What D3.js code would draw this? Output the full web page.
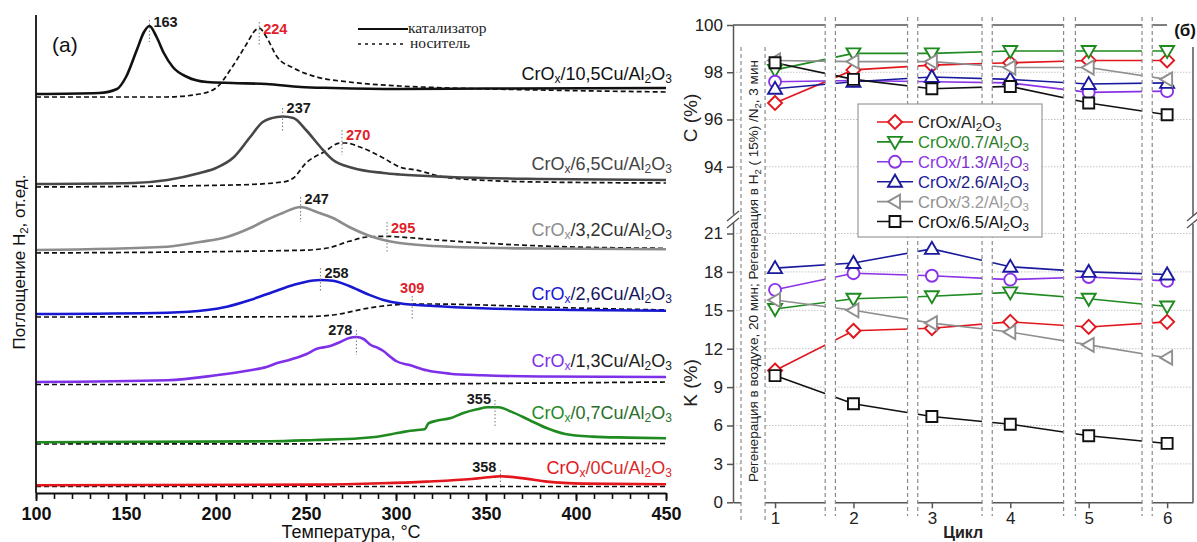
<!DOCTYPE html>
<html>
<head>
<meta charset="utf-8">
<script src="https://cdn.jsdelivr.net/npm/d3@7"></script>
<style>
  body { margin: 0; background: #fff; }
  svg { display: block; }
</style>
</head>
<body>
<svg id="chart" width="1197" height="542"></svg>
<script>
// ===================== Panel (a): H2-TPR profiles =====================
const tempMajorTicks = [100, 150, 200, 250, 300, 350, 400, 450];

// Each profile: [temperature °C, H2 uptake above its own baseline, arb. units]
const tpr105Cat = [[100,0],[135,0.1],[145,0.5],[150,1.7],[156,4.4],[160,6.2],[163,6.8],[167,5.7],[171,4.1],[176,2.7],[184,1.7],[195,1.2],[209,1.1],[228,1.0],[247,0.7],[265,0.6],[302,0.5],[350,0.55],[450,0.6]];
const tpr105Sup = [[100,0],[172,0],[191,0.3],[200,0.9],[209,3.0],[217,5.3],[222,6.7],[224,6.9],[228,6.0],[234,4.0],[243,2.9],[256,2.0],[274,1.5],[302,1.1],[330,0.9],[380,0.7],[450,0.5]];
const tpr65Cat  = [[100,0],[154,0.1],[173,0.4],[191,1.1],[200,1.6],[210,2.7],[219,4.7],[226,6.2],[234,6.7],[237,6.75],[243,6.6],[250,5.4],[258,3.7],[265,2.4],[276,1.6],[293,1.1],[302,0.95],[330,0.7],[380,0.5],[450,0.4]];
const tpr65Sup  = [[100,0],[210,0.2],[237,0.5],[243,0.9],[250,2.4],[260,3.5],[269,4.4],[272,4.4],[280,4.0],[293,2.9],[302,2.0],[311,1.7],[330,0.9],[380,0.5],[450,0.4]];
const tpr32Cat  = [[100,0],[173,0.33],[191,0.8],[206,1.3],[219,2.2],[228,3.0],[237,3.7],[247,4.3],[256,3.8],[265,3.2],[274,2.3],[284,1.5],[293,1.0],[302,0.7],[330,0.33],[380,0.15],[450,0.07]];
const tpr32Sup  = [[100,0],[247,0.27],[262,0.5],[274,1.17],[284,1.6],[295,1.67],[302,1.6],[321,1.33],[348,1.0],[386,0.67],[450,0.47]];
const tpr26Cat  = [[100,0],[173,0.13],[195,0.4],[206,0.73],[219,1.4],[232,2.23],[243,2.9],[254,3.35],[258,3.4],[265,3.33],[274,2.8],[284,2.0],[293,1.4],[302,1.07],[321,0.8],[348,0.57],[400,0.4],[450,0.33]];
const tpr26Sup  = [[100,0],[247,0.03],[265,0.2],[284,0.87],[298,1.2],[309,1.3],[321,1.3],[348,1.2],[386,0.97],[450,0.7]];
const tpr13Cat  = [[100,0],[173,0.17],[200,0.67],[219,1.17],[228,1.5],[234,1.9],[241,2.23],[250,2.77],[256,3.33],[263,3.57],[269,4.0],[274,4.4],[278,4.5],[282,4.3],[286,3.7],[290,3.4],[293,3.1],[297,2.5],[300,2.1],[308,1.67],[317,1.17],[330,0.83],[348,0.67],[380,0.55],[450,0.5]];
const tpr13Sup  = [[100,0],[200,0],[300,0.05],[450,0.25]];
const tpr07Cat  = [[100,0],[230,0.1],[255,0.23],[280,0.4],[292,0.63],[300,0.9],[305,1.07],[312,1.23],[316,1.3],[318,1.9],[323,2.17],[330,2.4],[337,2.9],[345,3.3],[351,3.5],[357,3.5],[364,3.07],[374,2.23],[384,1.4],[394,0.83],[409,0.57],[429,0.47],[450,0.4]];
const tpr07Sup  = [[100,0],[450,0.05]];
const tpr0Cat   = [[100,0],[255,0.07],[292,0.2],[317,0.37],[342,0.63],[354,0.85],[358,0.9],[362,0.87],[372,0.67],[384,0.37],[404,0.17],[450,0.1]];
const tpr0Sup   = [[100,0],[450,0]];

const sampleNames = ['CrOx/10,5Cu/Al2O3','CrOx/6,5Cu/Al2O3','CrOx/3,2Cu/Al2O3','CrOx/2,6Cu/Al2O3','CrOx/1,3Cu/Al2O3','CrOx/0,7Cu/Al2O3','CrOx/0Cu/Al2O3'];

// Peak maxima (°C): catalyst and support
const peakTemps   = [163, 224, 237, 270, 247, 295, 258, 309, 278, 355, 358];
const peakIsSupport = [false, true, false, true, false, true, false, true, false, false, false];

// ---- layout / style for panel (a) ----
const catalystCurves = [tpr105Cat, tpr65Cat, tpr32Cat, tpr26Cat, tpr13Cat, tpr07Cat, tpr0Cat];
const supportCurves  = [tpr105Sup, tpr65Sup, tpr32Sup, tpr26Sup, tpr13Sup, tpr07Sup, tpr0Sup];
const catOffset = [39.9, 30.9, 24.3, 17.9, 11.1, 5.07, 0.77];
const supOffset = [39.6, 30.6, 24.0, 17.6, 10.85, 4.9, 0.65];
const curveColor = ['#111111', '#474747', '#8c8c8c', '#1818d2', '#7e2fe8', '#1f8a1f', '#e3161e'];
const nameHeadColor = ['#111111', '#444444', '#8c8c8c', '#1818d2', '#7e2fe8', '#1f8a1f', '#e3161e'];
const nameTailColor = ['#111111', '#444444', '#333333', '#16165e', '#222222', '#2b6e2b', '#d92a2a'];
const nameLevel = [41.3, 32.3, 25.7, 19.3, 12.6, 7.4, 1.9];
// peak annotations: text baseline level, marker top/bottom levels, anchor
const peakLabelLevel = [46.6, 45.9, 38.0, 35.3, 28.9, 26.0, 21.5, 20.0, 15.8, 8.9, 2.1];
const peakMarkTop    = [47.3, 47.1, 38.5, 36.3, 29.6, 27.1, 22.5, 19.7, 16.3, 9.3, 2.3];
const peakMarkBot    = [45.1, 44.8, 36.1, 33.8, 27.1, 24.1, 20.1, 17.3, 13.8, 6.5, 0.5];
const peakAnchor     = ['start','start','start','start','start','start','start','middle','end','end','end'];

const svg = d3.select('#chart');

const xT = d3.scaleLinear().domain([100, 450]).range([36, 666]);
const yA = d3.scaleLinear().domain([0, 47.8]).range([493, 15]);

// chemical-formula text with subscripts (digits after letters, optional x in CrOx)
function drawChem(textSel, segments, subX, subSize, subDy) {
  let shifted = false;
  let prevCh = '';
  segments.forEach(seg => {
    const runs = [];
    for (const ch of seg.str) {
      const sub = (/[0-9]/.test(ch) && /[A-Za-zА-я]/.test(prevCh)) || (subX && ch === 'x' && prevCh === 'O');
      const last = runs[runs.length - 1];
      if (last && last.sub === sub) last.t += ch; else runs.push({ t: ch, sub });
      prevCh = ch;
    }
    runs.forEach(r => {
      const ts = textSel.append('tspan').text(r.t).attr('fill', seg.color);
      if (r.sub) {
        ts.attr('font-size', subSize);
        if (!shifted) { ts.attr('dy', subDy); shifted = true; }
      } else if (shifted) {
        ts.attr('dy', -subDy); shifted = false;
      }
    });
  });
}

const gA = svg.append('g').attr('class', 'panel-a');

const lineA = (offset) => d3.line()
  .x(d => xT(d[0]))
  .y(d => yA(offset + d[1]))
  .curve(d3.curveMonotoneX);

// support (dashed) profiles
supportCurves.forEach((pts, i) => {
  gA.append('path').datum(pts)
    .attr('d', lineA(supOffset[i]))
    .attr('fill', 'none').attr('stroke', '#111').attr('stroke-width', 1.7)
    .attr('stroke-dasharray', '5,3');
});
// catalyst (solid) profiles
catalystCurves.forEach((pts, i) => {
  gA.append('path').datum(pts)
    .attr('d', lineA(catOffset[i]))
    .attr('fill', 'none').attr('stroke', curveColor[i]).attr('stroke-width', 2.6)
    .attr('stroke-linejoin', 'round');
});

// peak markers and labels
peakTemps.forEach((t, i) => {
  gA.append('line')
    .attr('x1', xT(t)).attr('x2', xT(t))
    .attr('y1', yA(peakMarkTop[i])).attr('y2', yA(peakMarkBot[i]))
    .attr('stroke', '#777').attr('stroke-width', 1).attr('stroke-dasharray', '1.5,2');
  const dx = peakAnchor[i] === 'start' ? 4 : (peakAnchor[i] === 'end' ? -4 : 0);
  gA.append('text')
    .attr('x', xT(t) + dx).attr('y', yA(peakLabelLevel[i]))
    .attr('text-anchor', peakAnchor[i])
    .attr('font-family', 'Liberation Sans, Arial, sans-serif')
    .attr('font-size', 14.5).attr('font-weight', 'bold')
    .attr('fill', peakIsSupport[i] ? '#e0202a' : '#1a1a1a')
    .text(t);
});

// sample names
sampleNames.forEach((name, i) => {
  const cut = name.indexOf('/');
  const t = gA.append('text')
    .attr('x', xT(450) + 6).attr('y', yA(nameLevel[i]))
    .attr('text-anchor', 'end')
    .attr('font-family', 'Liberation Sans, Arial, sans-serif')
    .attr('font-size', 18);
  drawChem(t, [{ str: name.slice(0, cut), color: nameHeadColor[i] }, { str: name.slice(cut), color: nameTailColor[i] }], true, 12, 3);
});

// axes of panel (a)
const axA = gA.append('g').attr('transform', `translate(0,${yA(0)})`);
axA.call(d3.axisBottom(xT).tickValues(d3.range(100, 451, 10)).tickSize(6).tickSizeOuter(0).tickFormat(''));
axA.call(g => g.selectAll('.tick line').attr('stroke', '#111').attr('stroke-width', 1.6));
axA.select('.domain').attr('stroke', '#111').attr('stroke-width', 1.8);
const axA2 = gA.append('g').attr('transform', `translate(0,${yA(0)})`);
axA2.call(d3.axisBottom(xT).tickValues(tempMajorTicks).tickSize(8).tickSizeOuter(0).tickPadding(6));
axA2.select('.domain').remove();
axA2.selectAll('.tick line').attr('stroke', '#111').attr('stroke-width', 1.8);
axA2.selectAll('.tick text')
  .attr('font-family', 'Liberation Sans Narrow, Liberation Sans, Arial, sans-serif')
  .attr('font-size', 18).attr('font-weight', 'bold').attr('fill', '#111');

gA.append('line')
  .attr('x1', xT(100)).attr('x2', xT(100))
  .attr('y1', yA(0)).attr('y2', 15)
  .attr('stroke', '#111').attr('stroke-width', 1.8);

gA.append('text')
  .attr('x', xT(275)).attr('y', 538)
  .attr('text-anchor', 'middle')
  .attr('font-family', 'Liberation Sans, Arial, sans-serif')
  .attr('font-size', 18).attr('fill', '#111')
  .text('Температура, °C');

const yLab = gA.append('text')
  .attr('transform', 'translate(25,262) rotate(-90)')
  .attr('text-anchor', 'middle')
  .attr('font-family', 'Liberation Sans, Arial, sans-serif')
  .attr('font-size', 17);
drawChem(yLab, [{ str: 'Поглощение H2, от.ед.', color: '#111' }], false, 11.5, 3);

gA.append('text')
  .attr('x', 52).attr('y', 52)
  .attr('font-family', 'Liberation Sans, Arial, sans-serif')
  .attr('font-size', 21).attr('fill', '#111')
  .text('(a)');

// line-style legend
gA.append('line').attr('x1', 358).attr('x2', 408).attr('y1', 29).attr('y2', 29)
  .attr('stroke', '#111').attr('stroke-width', 2);
gA.append('line').attr('x1', 358).attr('x2', 404).attr('y1', 44).attr('y2', 44)
  .attr('stroke', '#111').attr('stroke-width', 1.6).attr('stroke-dasharray', '3,4');
gA.append('text').attr('x', 408).attr('y', 33)
  .attr('font-family', 'Liberation Serif, DejaVu Serif, serif').attr('font-size', 15.5).attr('fill', '#222')
  .text('катализатор');
gA.append('text').attr('x', 410).attr('y', 48)
  .attr('font-family', 'Liberation Serif, DejaVu Serif, serif').attr('font-size', 15.5).attr('fill', '#222')
  .text('носитель');

// ===================== Panel (б): cycling performance =====================
const cycles = [1, 2, 3, 4, 5, 6];
const catalystNames = ['CrOx/Al2O3', 'CrOx/0.7/Al2O3', 'CrOx/1.3/Al2O3', 'CrOx/2.6/Al2O3', 'CrOx/3.2/Al2O3', 'CrOx/6.5/Al2O3'];
// selectivity C (%)
const selCr00 = [96.7, 98.1, 98.3, 98.4, 98.5, 98.5];
const selCr07 = [98.1, 98.8, 98.8, 98.9, 98.9, 98.9];
const selCr13 = [97.6, 97.65, 97.6, 97.55, 97.15, 97.2];
const selCr26 = [97.3, 97.6, 97.8, 97.7, 97.5, 97.55];
const selCr32 = [98.5, 98.45, 98.45, 98.2, 98.2, 97.7];
const selCr65 = [98.4, 97.7, 97.3, 97.4, 96.7, 96.2];
// conversion K (%)
const convCr00 = [10.3, 13.4, 13.6, 14.1, 13.7, 14.1];
const convCr07 = [15.1, 15.9, 16.1, 16.4, 15.9, 15.3];
const convCr13 = [16.6, 17.9, 17.7, 17.4, 17.6, 17.3];
const convCr26 = [18.3, 18.7, 19.8, 18.4, 18.0, 17.8];
const convCr32 = [15.8, 15.0, 14.0, 13.3, 12.3, 11.3];
const convCr65 = [9.9, 7.7, 6.7, 6.1, 5.2, 4.6];
const selTicks = [94, 96, 98, 100];
const convTicks = [0, 3, 6, 9, 12, 15, 18, 21];

const selSeries = [selCr00, selCr07, selCr13, selCr26, selCr32, selCr65];
const convSeries = [convCr00, convCr07, convCr13, convCr26, convCr32, convCr65];
const seriesColor = ['#e3161e', '#1f8a1f', '#8a32e6', '#1a1a9e', '#8f8f8f', '#111111'];
const legendTextColor = ['#222222', '#2a7a2a', '#7a30cc', '#1e1e80', '#9a9a9a', '#111111'];
const seriesShape = ['diamond', 'triDown', 'circle', 'triUp', 'triLeft', 'square'];

// regeneration intervals between cycles (in cycle units)
const regenBreaks = [[1.64, 1.77], [2.69, 2.82], [3.64, 3.77], [4.68, 4.83], [5.68, 5.81]];
const startBand = [0.566, 0.873];

const xC = d3.scaleLinear().domain([0.464, 6.33]).range([733, 1193]);
const ySel = d3.scaleLinear().domain([92, 100]).range([214, 25]);
const yConv = d3.scaleLinear().domain([0, 21.9]).range([502.3, 222]);

const gB = svg.append('g').attr('class', 'panel-b');

function shapePath(shape) {
  switch (shape) {
    case 'diamond': return 'M0,-7L7,0L0,7L-7,0Z';
    case 'triDown': return 'M-7,-5L7,-5L0,7Z';
    case 'triUp':   return 'M-7,5L7,5L0,-7Z';
    case 'triLeft': return 'M5,-7L5,7L-7,0Z';
    case 'square':  return 'M-5.5,-5.5h11v11h-11Z';
    default:        return 'M6,0A6,6 0 1,1 -6,0A6,6 0 1,1 6,0Z';
  }
}

// horizontal grid
const gridG = gB.append('g');
selTicks.filter(v => v < 100).forEach(v => {
  gridG.append('line').attr('x1', 733).attr('x2', 1193).attr('y1', ySel(v)).attr('y2', ySel(v))
    .attr('stroke', '#c4c4c4').attr('stroke-width', 1).attr('stroke-dasharray', '1.5,1.5');
});
convTicks.filter(v => v > 0).forEach(v => {
  gridG.append('line').attr('x1', 733).attr('x2', 1193).attr('y1', yConv(v)).attr('y2', yConv(v))
    .attr('stroke', '#c4c4c4').attr('stroke-width', 1).attr('stroke-dasharray', '1.5,1.5');
});

// series lines
const seriesG = gB.append('g');
function drawSeries(values, yScale, i) {
  seriesG.append('path').datum(values)
    .attr('d', d3.line().x((d, k) => xC(cycles[k])).y(d => yScale(d)))
    .attr('fill', 'none').attr('stroke', seriesColor[i]).attr('stroke-width', 1.6);
}
selSeries.forEach((v, i) => drawSeries(v, ySel, i));
convSeries.forEach((v, i) => drawSeries(v, yConv, i));

// frame
const frameG = gB.append('g');
frameG.append('line').attr('x1', 733).attr('x2', 1167).attr('y1', 25).attr('y2', 25)
  .attr('stroke', '#555').attr('stroke-width', 1.5);
frameG.append('line').attr('x1', 1193).attr('x2', 1193).attr('y1', 47).attr('y2', 216)
  .attr('stroke', '#555').attr('stroke-width', 1.5);
frameG.append('line').attr('x1', 1193).attr('x2', 1193).attr('y1', 224).attr('y2', 502.3)
  .attr('stroke', '#555').attr('stroke-width', 1.5);

// left axes (two segments)
const axSel = gB.append('g').attr('transform', 'translate(733,0)')
  .call(d3.axisLeft(ySel).tickValues(selTicks).tickSize(6).tickSizeOuter(0).tickPadding(4));
const axConv = gB.append('g').attr('transform', 'translate(733,0)')
  .call(d3.axisLeft(yConv).tickValues(convTicks).tickSize(6).tickSizeOuter(0).tickPadding(4));
[axSel, axConv].forEach(ax => {
  ax.select('.domain').attr('stroke', '#555').attr('stroke-width', 1.5);
  ax.selectAll('.tick line').attr('stroke', '#555').attr('stroke-width', 1.5);
  ax.selectAll('.tick text').attr('font-family', 'Liberation Sans, Arial, sans-serif')
    .attr('font-size', 17).attr('fill', '#222');
});

// bottom axis
const axCyc = gB.append('g').attr('transform', 'translate(0,502.3)')
  .call(d3.axisBottom(xC).tickValues(cycles).tickFormat(d3.format('d')).tickSize(6).tickSizeOuter(0).tickPadding(4));
axCyc.select('.domain').attr('stroke', '#555').attr('stroke-width', 1.5);
axCyc.selectAll('.tick line').attr('stroke', '#555').attr('stroke-width', 1.5);
axCyc.selectAll('.tick text').attr('font-family', 'Liberation Sans, Arial, sans-serif')
  .attr('font-size', 17).attr('fill', '#222');

// regeneration gaps: blank band framed by dashed lines
const gapG = gB.append('g');
regenBreaks.forEach(([a, b]) => {
  gapG.append('rect').attr('x', xC(a)).attr('y', 14).attr('width', xC(b) - xC(a)).attr('height', 504)
    .attr('fill', '#fff');
  [a, b].forEach(v => {
    gapG.append('line').attr('x1', xC(v)).attr('x2', xC(v)).attr('y1', 17).attr('y2', 516)
      .attr('stroke', '#8a8a8a').attr('stroke-width', 1.2).attr('stroke-dasharray', '4,3');
  });
});
gapG.append('rect').attr('x', xC(startBand[0])).attr('y', 47)
  .attr('width', xC(startBand[1]) - xC(startBand[0])).attr('height', 473).attr('fill', '#fff');
startBand.forEach(v => {
  gapG.append('line').attr('x1', xC(v)).attr('x2', xC(v)).attr('y1', 47).attr('y2', 520)
    .attr('stroke', '#8a8a8a').attr('stroke-width', 1.2).attr('stroke-dasharray', '4,3');
});

// axis break marks
function breakMark(x) {
  [[-6, 221, 6, 211], [-6, 228, 6, 218]].forEach(([dx1, y1, dx2, y2]) => {
    gB.append('line').attr('x1', x + dx1).attr('y1', y1).attr('x2', x + dx2).attr('y2', y2)
      .attr('stroke', '#555').attr('stroke-width', 1.3);
  });
}
breakMark(733);
breakMark(1193);

// markers
const markG = gB.append('g');
function drawMarkers(values, yScale, i) {
  values.forEach((v, k) => {
    markG.append('path').attr('d', shapePath(seriesShape[i]))
      .attr('transform', `translate(${xC(cycles[k])},${yScale(v)})`)
      .attr('fill', '#fff').attr('stroke', seriesColor[i]).attr('stroke-width', 1.9);
  });
}
selSeries.forEach((v, i) => drawMarkers(v, ySel, i));
convSeries.forEach((v, i) => drawMarkers(v, yConv, i));

// annotation in the first band
gB.append('text')
  .attr('transform', `translate(${(xC(startBand[0]) + xC(startBand[1])) / 2 + 5},271) rotate(-90)`)
  .attr('text-anchor', 'middle')
  .attr('font-family', 'Liberation Sans, Arial, sans-serif')
  .attr('font-size', 13.5).attr('fill', '#222')
  .call(t => drawChem(t, [{ str: 'Регенерация в воздухе, 20 мин; Регенерация в H2 ( 15%)  /N2, 3 мин', color: '#222' }], false, 9.5, 2.5));

// axis titles
gB.append('text').attr('transform', 'translate(697,118) rotate(-90)')
  .attr('text-anchor', 'middle').attr('font-family', 'Liberation Sans, Arial, sans-serif')
  .attr('font-size', 19).attr('fill', '#222').text('C (%)');
gB.append('text').attr('transform', 'translate(697,383) rotate(-90)')
  .attr('text-anchor', 'middle').attr('font-family', 'Liberation Sans, Arial, sans-serif')
  .attr('font-size', 19).attr('fill', '#222').text('K (%)');
gB.append('text').attr('x', xC(3.4)).attr('y', 538)
  .attr('text-anchor', 'middle').attr('font-family', 'Liberation Sans, Arial, sans-serif')
  .attr('font-size', 16).attr('font-weight', 'bold').attr('fill', '#222').text('Цикл');
gB.append('text').attr('x', 1196).attr('y', 36)
  .attr('text-anchor', 'end').attr('font-family', 'Liberation Sans, Arial, sans-serif')
  .attr('font-size', 17).attr('font-weight', 'bold').attr('fill', '#111').text('(б)');

// legend
const legG = gB.append('g').attr('transform', 'translate(858,104)');
legG.append('rect').attr('width', 184).attr('height', 133)
  .attr('fill', '#fff').attr('stroke', '#9a9a9a').attr('stroke-width', 1.2);
catalystNames.forEach((name, i) => {
  const yy = 18 + i * 19.9;
  legG.append('line').attr('x1', 19).attr('x2', 55).attr('y1', yy).attr('y2', yy)
    .attr('stroke', seriesColor[i]).attr('stroke-width', 1.6);
  legG.append('path').attr('d', shapePath(seriesShape[i]))
    .attr('transform', `translate(37,${yy})`)
    .attr('fill', '#fff').attr('stroke', seriesColor[i]).attr('stroke-width', 1.9);
  const t = legG.append('text').attr('x', 60).attr('y', yy + 6)
    .attr('font-family', 'Liberation Sans, Arial, sans-serif').attr('font-size', 16.5);
  const cut = name.indexOf('/');
  drawChem(t, [{ str: name.slice(0, cut), color: i === 0 ? '#222' : seriesColor[i] }, { str: name.slice(cut), color: legendTextColor[i] }], false, 11.5, 3);
});
</script>
</body>
</html>
